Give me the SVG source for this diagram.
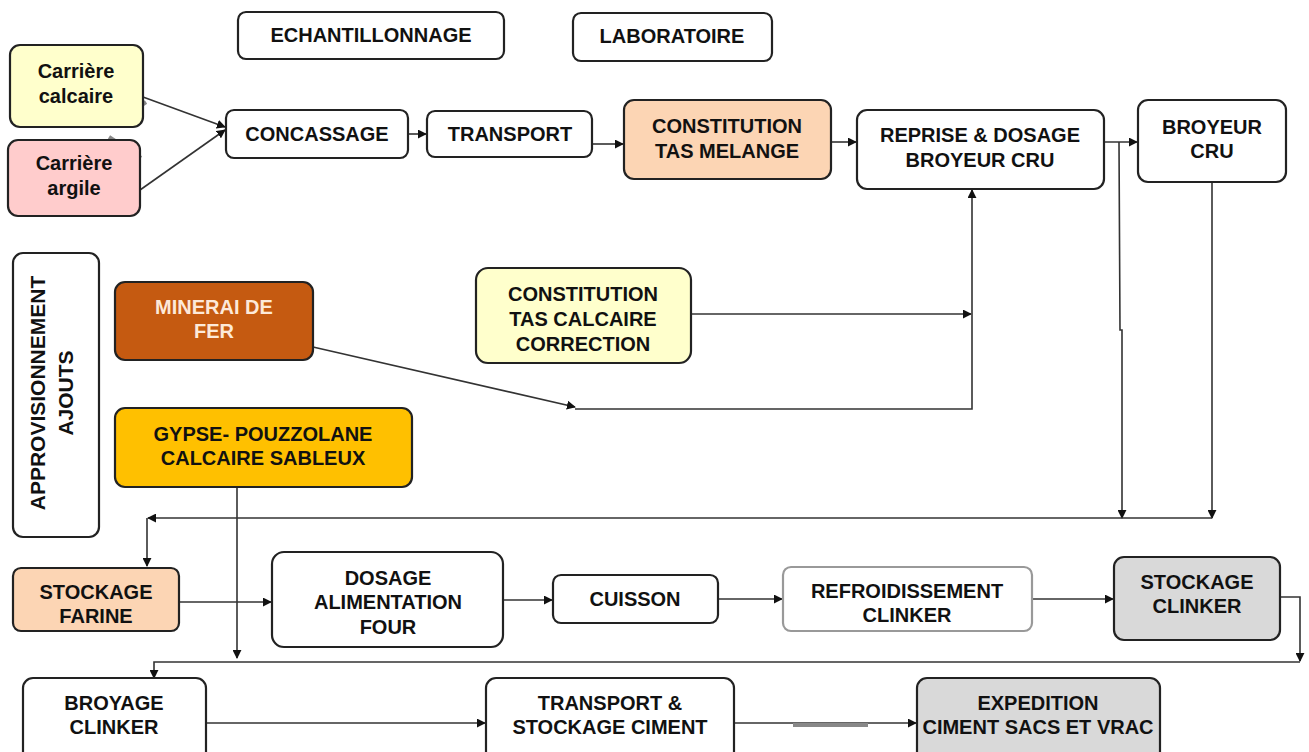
<svg xmlns="http://www.w3.org/2000/svg" width="1309" height="752" viewBox="0 0 1309 752">
<defs>
<style>
.box{stroke:#222;stroke-width:2.2;fill:#fff}
.yel{fill:#FFFFCC}
.pink{fill:#FFCCCC}
.peach{fill:#FCD5B4}
.rust{fill:#C55A11}
.gold{fill:#FFC000}
.grey{fill:#D9D9D9}
.t{font-family:"Liberation Sans",Arial,sans-serif;font-weight:bold;font-size:20px;fill:#111;text-anchor:middle}
.w{fill:#FDE9D9}
.c{stroke:#333;stroke-width:1.6;fill:none}
.art{stroke:#888;stroke-width:4;fill:none}
</style>
<marker id="ar" viewBox="0 0 10 10" refX="9" refY="5" markerWidth="9" markerHeight="9" markerUnits="userSpaceOnUse" orient="auto">
<path d="M0,0 L10,5 L0,10 z" fill="#111"/>
</marker>
</defs>
<rect width="1309" height="752" fill="#fff"/>

<g id="connectors">
<line class="c" x1="143" y1="97" x2="225" y2="127" marker-end="url(#ar)"/>
<line class="c" x1="140" y1="190" x2="225" y2="130" marker-end="url(#ar)"/>
<line class="c" x1="408" y1="134" x2="426" y2="134" marker-end="url(#ar)"/>
<line class="c" x1="592" y1="144" x2="623" y2="144" marker-end="url(#ar)"/>
<line class="c" x1="831" y1="142" x2="856" y2="142" marker-end="url(#ar)"/>
<line class="c" x1="1104" y1="142" x2="1137" y2="142" marker-end="url(#ar)"/>
<polyline class="c" points="1119,142 1120,330 1122,330 1122,518" marker-end="url(#ar)"/>
<line class="c" x1="1212" y1="182" x2="1212" y2="518" marker-end="url(#ar)"/>
<line class="c" x1="1212" y1="518" x2="148" y2="518" marker-end="url(#ar)"/>
<line class="c" x1="147" y1="518" x2="147" y2="566" marker-end="url(#ar)"/>
<line class="c" x1="691" y1="314" x2="971" y2="314" marker-end="url(#ar)"/>
<line class="c" x1="313" y1="347" x2="575" y2="407" marker-end="url(#ar)"/>
<polyline class="c" points="575,409 972,409 972,190" marker-end="url(#ar)"/>
<line class="c" x1="237" y1="487" x2="237" y2="658" marker-end="url(#ar)"/>
<line class="c" x1="179" y1="602" x2="271" y2="602" marker-end="url(#ar)"/>
<line class="c" x1="503" y1="600" x2="552" y2="600" marker-end="url(#ar)"/>
<line class="c" x1="718" y1="599" x2="782" y2="599" marker-end="url(#ar)"/>
<line class="c" x1="1032" y1="599" x2="1113" y2="599" marker-end="url(#ar)"/>
<polyline class="c" points="1280,597 1300,597 1300,661" marker-end="url(#ar)"/>
<polyline class="c" points="1300,662 154,662 154,678" marker-end="url(#ar)"/>
<line class="c" x1="206" y1="723" x2="485" y2="723" marker-end="url(#ar)"/>
<line class="c" x1="734" y1="723" x2="916" y2="723" marker-end="url(#ar)"/>
<polyline class="art" points="146,102 112,126"/>
<polyline class="art" points="109,137 141,158"/>
<line class="art" x1="793" y1="725" x2="868" y2="725" stroke-width="3"/>
</g>

<g id="echantillonnage"><rect class="box" x="238" y="12" width="266" height="47" rx="8"/><text class="t" x="371" y="42">ECHANTILLONNAGE</text></g>
<g id="laboratoire"><rect class="box" x="573" y="13" width="199" height="48" rx="8"/><text class="t" x="672" y="43">LABORATOIRE</text></g>

<g id="carriere-calcaire"><rect class="box yel" x="10" y="45" width="133" height="82" rx="10"/><text class="t" x="76" y="78">Carrière</text><text class="t" x="76" y="103">calcaire</text></g>
<g id="carriere-argile"><rect class="box pink" x="8" y="140" width="132" height="76" rx="10"/><text class="t" x="74" y="170">Carrière</text><text class="t" x="74" y="195">argile</text></g>

<g id="concassage"><rect class="box" x="226" y="110" width="182" height="48" rx="8"/><text class="t" x="317" y="141">CONCASSAGE</text></g>
<g id="transport"><rect class="box" x="427" y="111" width="165" height="46" rx="8"/><text class="t" x="510" y="141">TRANSPORT</text></g>
<g id="constitution-melange"><rect class="box peach" x="624" y="100" width="207" height="79" rx="10"/><text class="t" x="727" y="133">CONSTITUTION</text><text class="t" x="727" y="158">TAS MELANGE</text></g>
<g id="reprise-dosage"><rect class="box" x="857" y="110" width="247" height="79" rx="10"/><text class="t" x="980" y="142">REPRISE &amp; DOSAGE</text><text class="t" x="980" y="167">BROYEUR CRU</text></g>
<g id="broyeur-cru"><rect class="box" x="1138" y="100" width="148" height="82" rx="10"/><text class="t" x="1212" y="134">BROYEUR</text><text class="t" x="1212" y="158">CRU</text></g>

<g id="approvisionnement"><rect class="box" x="13" y="253" width="86" height="284" rx="10"/>
<text class="t" transform="translate(45,393) rotate(-90)" style="font-size:21px">APPROVISIONNEMENT</text>
<text class="t" transform="translate(73,393) rotate(-90)" style="font-size:21px">AJOUTS</text></g>

<g id="minerai-fer"><rect class="box rust" x="115" y="282" width="198" height="78" rx="10"/><text class="t w" x="214" y="314">MINERAI DE</text><text class="t w" x="214" y="338">FER</text></g>
<g id="gypse"><rect class="box gold" x="115" y="408" width="297" height="79" rx="10"/><text class="t" x="263" y="441">GYPSE- POUZZOLANE</text><text class="t" x="263" y="465">CALCAIRE SABLEUX</text></g>
<g id="tas-calcaire"><rect class="box yel" x="476" y="268" width="215" height="95" rx="12"/><text class="t" x="583" y="301">CONSTITUTION</text><text class="t" x="583" y="326">TAS CALCAIRE</text><text class="t" x="583" y="351">CORRECTION</text></g>

<g id="stockage-farine"><rect class="box peach" x="13" y="568" width="166" height="63" rx="8"/><text class="t" x="96" y="599">STOCKAGE</text><text class="t" x="96" y="623">FARINE</text></g>
<g id="dosage-four"><rect class="box" x="272" y="552" width="231" height="95" rx="12"/><text class="t" x="388" y="585">DOSAGE</text><text class="t" x="388" y="609">ALIMENTATION</text><text class="t" x="388" y="634">FOUR</text></g>
<g id="cuisson"><rect class="box" x="553" y="575" width="165" height="48" rx="8"/><text class="t" x="635" y="606">CUISSON</text></g>
<g id="refroidissement"><rect class="box" x="783" y="567" width="249" height="64" rx="8" style="stroke:#999"/><text class="t" x="907" y="598">REFROIDISSEMENT</text><text class="t" x="907" y="622">CLINKER</text></g>
<g id="stockage-clinker"><rect class="box grey" x="1114" y="557" width="166" height="83" rx="10"/><text class="t" x="1197" y="589">STOCKAGE</text><text class="t" x="1197" y="613">CLINKER</text></g>

<g id="broyage-clinker"><rect class="box" x="23" y="678" width="183" height="84" rx="10"/><text class="t" x="114" y="710">BROYAGE</text><text class="t" x="114" y="734">CLINKER</text></g>
<g id="transport-stockage"><rect class="box" x="486" y="678" width="248" height="84" rx="10"/><text class="t" x="610" y="710">TRANSPORT &amp;</text><text class="t" x="610" y="734">STOCKAGE CIMENT</text></g>
<g id="expedition"><rect class="box grey" x="917" y="678" width="243" height="84" rx="10"/><text class="t" x="1038" y="710">EXPEDITION</text><text class="t" x="1038" y="734">CIMENT SACS ET VRAC</text></g>
</svg>
